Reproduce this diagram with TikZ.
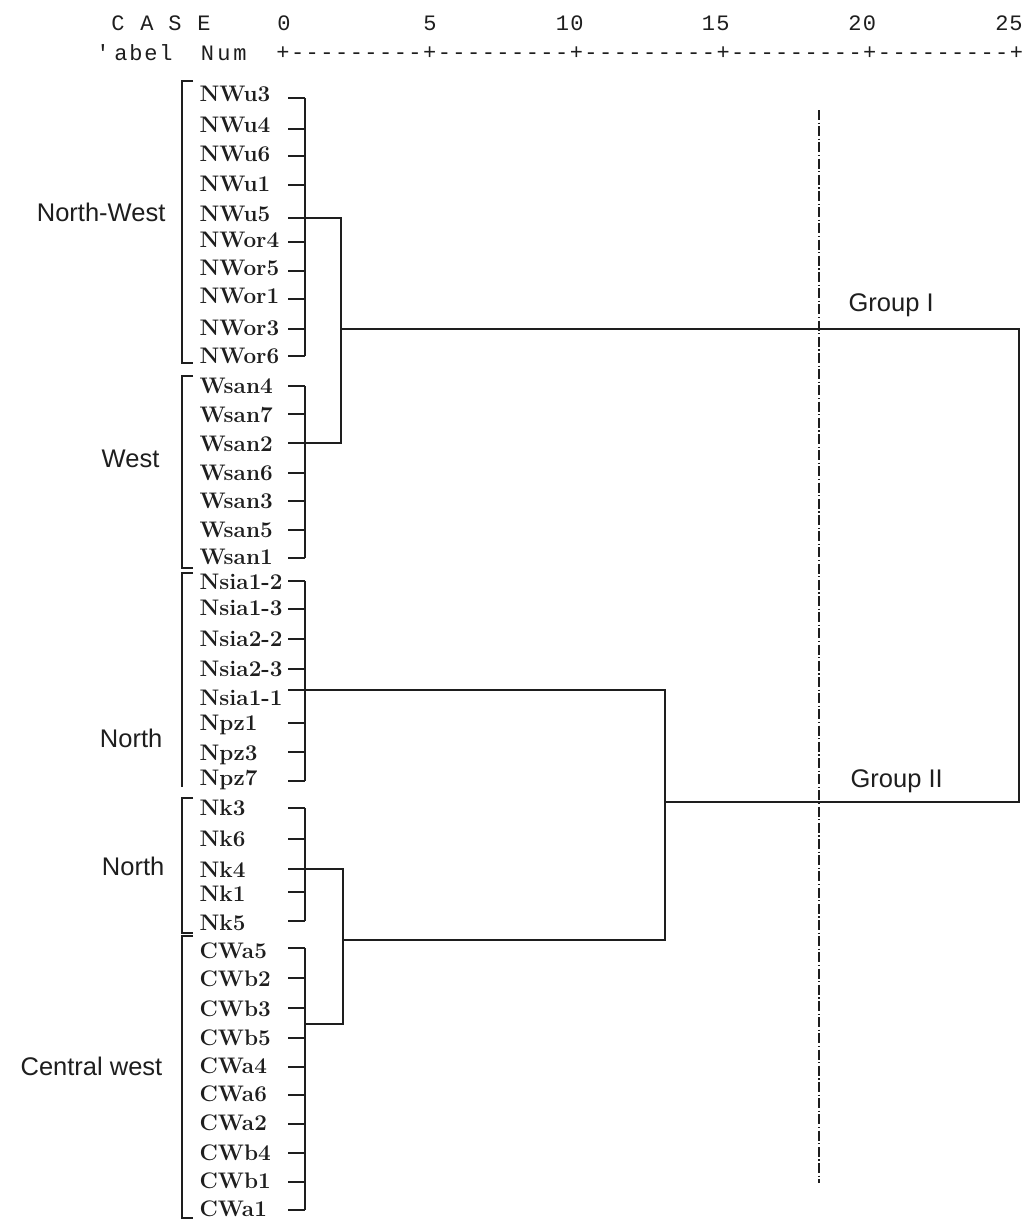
\documentclass[tikz,border=0pt]{standalone}
\usepackage{fontspec}
\newfontfamily\hdrfont{Liberation Mono}
\newfontfamily\grpfont{Liberation Sans}
\definecolor{ink}{HTML}{1E1E1E}
\begin{document}
\begin{tikzpicture}[x=1pt,y=-1pt,
  line width=1.3pt, draw=ink, line join=miter,
  hdr/.style={inner sep=0pt, anchor=base, font=\hdrfont\fontsize{22}{22}\selectfont, text=ink},
  leaf/.style={inner sep=0pt, anchor=base west, font=\bfseries\fontsize{22.5}{22.5}\selectfont, text=ink},
  region/.style={inner sep=0pt, anchor=base east, font=\grpfont\fontsize{25.5}{25.5}\selectfont, text=ink},
  grp/.style={inner sep=0pt, anchor=base west, font=\grpfont\fontsize{25.5}{25.5}\selectfont, text=ink},
  link/.style={draw=ink, line width=1.3pt},
  cutline/.style={draw=ink, line width=1.2pt, dash pattern=on 10pt off 2.5pt on 1.2pt off 2.5pt},
  brace/.style={draw=ink, line width=1.3pt}]
\useasboundingbox (0,0) rectangle (1026,1219);
\fill[white] (0,0) rectangle (1026,1219);

% ---- header ----
\foreach \c/\x in {C/118,A/147,S/175,E/204,0/284,5/430,1/562.5,0/577,1/708.5,5/723,2/855,0/869.5,2/1002,5/1016}
  \node[hdr] (h-\x) at (\x,30) {\c};
\foreach \c/\x in {'/103,a/121,b/136,e/151,l/166,N/207.5,u/224,m/240}
  \node[hdr] (k-\x) at (\x,60) {\c};
\foreach \i in {0,...,50}{
  \pgfmathtruncatemacro{\r}{mod(\i,10)}
  \ifnum\r=0
    \node[hdr] (ax-\i) at (283+14.67*\i,59) {+};
  \else
    \node[hdr] (ax-\i) at (283+14.67*\i,59) {-};
  \fi
}

% ---- leaves ----
\foreach \n/\t/\b in {NWu3/98/101,NWu4/129/132,NWu6/156/161,NWu1/185/191,NWu5/218/221,
  NWor4/242/247,NWor5/271/275,NWor1/299/303,NWor3/329/335,NWor6/356/363,
  Wsan4/386/393,Wsan7/414/422,Wsan2/443/451,Wsan6/473/480,Wsan3/501/508,Wsan5/530/537,Wsan1/558/564,
  Nsia1-2/581/589,Nsia1-3/609/615,Nsia2-2/639/646,Nsia2-3/669/676,Nsia1-1/690/705,
  Npz1/723/730,Npz3/752/760,Npz7/781/785,
  Nk3/808/815,Nk6/839/846,Nk4/869/877,Nk1/892/901,Nk5/921/930,
  CWa5/948/958,CWb2/978/986,CWb3/1008/1016,CWb5/1038/1045,CWa4/1067/1073,
  CWa6/1095/1101,CWa2/1124/1130,CWb4/1153/1160,CWb1/1182/1188,CWa1/1210/1216}{
  \node[leaf] (L-\n) at (199,\b) {\n};
  \coordinate (T-\n) at (288,\t);
  \coordinate (V-\n) at (305,\t);
  \draw[link] (T-\n) -- (V-\n);
}

% ---- first-level clusters ----
\draw[link] (V-NWu3) -- (V-NWor6);
\draw[link] (V-Wsan4) -- (V-Wsan1);
\draw[link] (V-Nsia1-2) -- (V-Npz7);
\draw[link] (V-Nk3) -- (V-Nk5);
\draw[link] (V-CWa5) -- (V-CWa1);

% ---- higher-level joins ----
\coordinate (B1t) at (341,218);
\coordinate (B1b) at (341,443);
\coordinate (B1m) at (341,329);
\draw[link] (T-NWu5) -- (B1t) -- (B1b) -- (T-Wsan2);

\coordinate (B2t) at (343,869);
\coordinate (B2b) at (343,1024);
\coordinate (B2m) at (343,940);
\coordinate (Vcw) at (305,1024);
\draw[link] (T-Nk4) -- (B2t) -- (B2b) -- (Vcw);

\coordinate (C2t) at (665,690);
\coordinate (C2b) at (665,940);
\coordinate (C2m) at (665,802);
\draw[link] (T-Nsia1-1) -- (C2t) -- (C2b) -- (B2m);

\coordinate (R1) at (1019,329);
\coordinate (R2) at (1019,802);
\draw[link] (B1m) -- (R1) -- (R2) -- (C2m);

% ---- cut line ----
\coordinate (D1) at (819,110);
\coordinate (D2) at (819,1183);
\draw[cutline] (D1) -- (D2);

\node[grp] (g1) at (848,311) {Group I};
\node[grp] (g2) at (850,787) {Group II};

% ---- region brackets ----
\draw[brace] (193,81) -- (182,81) -- (182,363) -- (193,363);
\draw[brace] (193,376) -- (182,376) -- (182,568) -- (193,568);
\draw[brace] (193,573) -- (182,573) -- (182,787);
\draw[brace] (193,798) -- (182,798) -- (182,933) -- (193,933);
\draw[brace] (193,936) -- (182,936) -- (182,1218) -- (193,1218);

\node[region] (r1) at (166,221) {North-West};
\node[region] (r2) at (160,467) {West};
\node[region] (r3) at (163,747) {North};
\node[region] (r4) at (165,875) {North};
\node[region] (r5) at (163,1075) {Central west};
\end{tikzpicture}
\end{document}
